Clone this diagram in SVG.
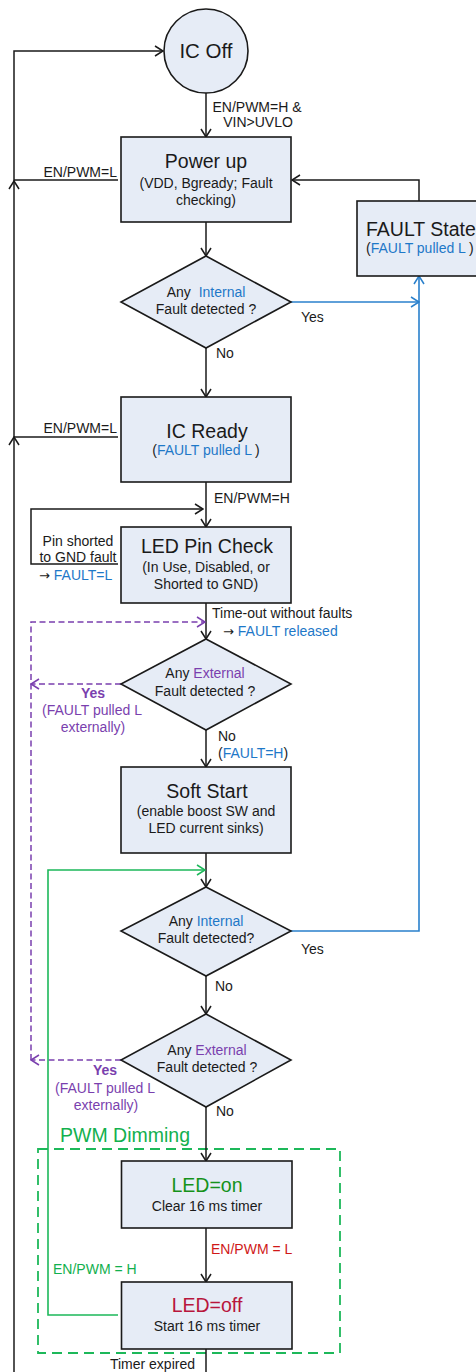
<svg xmlns="http://www.w3.org/2000/svg" width="476" height="1372" viewBox="0 0 476 1372">
<defs>
<style>
text{font-family:"Liberation Sans",Arial,sans-serif;fill:#1a1a1a}
.ti{font-size:19.5px}
.sm{font-size:14px}
.mid{text-anchor:middle}
.end{text-anchor:end}
.arr{font-family:"DejaVu Sans",sans-serif;font-size:13px}
.node{fill:#e6ecf6;stroke:#1a1a1a;stroke-width:1.6}
.ln{fill:none;stroke:#1a1a1a;stroke-width:1.5}
.bl{fill:none;stroke:#2a80cc;stroke-width:1.6}
.pu{fill:none;stroke:#7a3fae;stroke-width:1.5;stroke-dasharray:6,3.5}
.gr{fill:none;stroke:#1db85a;stroke-width:1.6}
.blue{fill:#1e78c8}
.purple{fill:#7a3fae}
.green{fill:#12b04e}
</style>
<marker id="ak" markerUnits="userSpaceOnUse" markerWidth="10" markerHeight="12" viewBox="0 0 10 12" refX="9" refY="6" orient="auto"><path d="M1,1 L9,6 L1,11" fill="none" stroke="#1a1a1a" stroke-width="1.5"/></marker>
<marker id="ab" markerUnits="userSpaceOnUse" markerWidth="10" markerHeight="12" viewBox="0 0 10 12" refX="9" refY="6" orient="auto"><path d="M1,1 L9,6 L1,11" fill="none" stroke="#2a80cc" stroke-width="1.5"/></marker>
<marker id="ap" markerUnits="userSpaceOnUse" markerWidth="10" markerHeight="12" viewBox="0 0 10 12" refX="9" refY="6" orient="auto"><path d="M1,1 L9,6 L1,11" fill="none" stroke="#7a3fae" stroke-width="1.5"/></marker>
<marker id="ag" markerUnits="userSpaceOnUse" markerWidth="10" markerHeight="12" viewBox="0 0 10 12" refX="9" refY="6" orient="auto"><path d="M1,1 L9,6 L1,11" fill="none" stroke="#1db85a" stroke-width="1.5"/></marker>
</defs>
<rect width="476" height="1372" fill="#ffffff"/>

<g id="pwm-dimming-group">
<rect x="38" y="1149" width="302" height="204" fill="none" stroke="#1db85a" stroke-width="1.8" stroke-dasharray="10,6"/>
<text x="60" y="1142" class="ti green">PWM Dimming</text>
</g>

<g id="connectors">
<path class="ln" d="M14,1372 V437" marker-end="url(#ak)"/>
<path class="ln" d="M14,437 V181" marker-end="url(#ak)"/>
<path class="ln" d="M14,181 V51 H163" marker-end="url(#ak)"/>
<path class="ln" d="M118,180 H14"/>
<path class="ln" d="M118,437 H14"/>
<path class="ln" d="M206,93 V137" marker-end="url(#ak)"/>
<path class="ln" d="M419,201 V180 H292" marker-end="url(#ak)"/>
<path class="ln" d="M206,222 V256" marker-end="url(#ak)"/>
<path class="bl" d="M291,302 H419" marker-end="url(#ab)"/>
<path class="bl" d="M291,931 H419 V276" marker-end="url(#ab)"/>
<path class="ln" d="M206,348 V397" marker-end="url(#ak)"/>
<path class="ln" d="M206,482 V527" marker-end="url(#ak)"/>
<path class="ln" d="M118,564 H31 V509 H203" marker-end="url(#ak)"/>
<path class="ln" d="M206,603 V639" marker-end="url(#ak)"/>
<path class="pu" d="M31,1060 V622 H205" marker-end="url(#ap)"/>
<path class="pu" d="M121,684 H31" marker-end="url(#ap)"/>
<path class="pu" d="M121,1060 H31" marker-end="url(#ap)"/>
<path class="ln" d="M206,730 V767" marker-end="url(#ak)"/>
<path class="ln" d="M206,853 V887" marker-end="url(#ak)"/>
<path class="gr" d="M118,1315 H48 V870 H205" marker-end="url(#ag)"/>
<path class="ln" d="M206,976 V1014" marker-end="url(#ak)"/>
<path class="ln" d="M206,1107 V1161" marker-end="url(#ak)"/>
<path class="ln" d="M206,1228 V1282" marker-end="url(#ak)"/>
<path class="ln" d="M206,1349 V1372"/>
</g>

<g id="connector-labels">
<text x="257" y="112" class="sm mid">EN/PWM=H &amp;</text>
<text x="258" y="127" class="sm mid">VIN&gt;UVLO</text>
<text x="117" y="177" class="sm end">EN/PWM=L</text>
<text x="301" y="322" class="sm">Yes</text>
<text x="216" y="358" class="sm">No</text>
<text x="117" y="433" class="sm end">EN/PWM=L</text>
<text x="214" y="503" class="sm">EN/PWM=H</text>
<text x="78" y="546" class="sm mid">Pin shorted</text>
<text x="78" y="562" class="sm mid">to GND fault</text>
<text x="39" y="580" class="sm"><tspan class="arr">→</tspan> <tspan class="blue">FAULT=L</tspan></text>
<text x="212" y="618" class="sm">Time-out without faults</text>
<text x="223" y="636" class="sm"><tspan class="arr">→</tspan> <tspan class="blue">FAULT released</tspan></text>
<text x="93" y="698" class="sm mid purple" font-weight="bold">Yes</text>
<text x="92" y="715" class="sm mid purple">(FAULT pulled L</text>
<text x="93" y="732" class="sm mid purple">externally)</text>
<text x="218" y="741" class="sm">No</text>
<text x="218" y="758" class="sm">(<tspan class="blue">FAULT=H</tspan>)</text>
<text x="301" y="954" class="sm">Yes</text>
<text x="215" y="991" class="sm">No</text>
<text x="105" y="1075" class="sm mid purple" font-weight="bold">Yes</text>
<text x="105" y="1093" class="sm mid purple">(FAULT pulled L</text>
<text x="106" y="1110" class="sm mid purple">externally)</text>
<text x="216" y="1116" class="sm">No</text>
<text x="211" y="1254" class="sm" style="fill:#d01818">EN/PWM = L</text>
<text x="53" y="1274" class="sm green">EN/PWM = H</text>
<text x="195" y="1369" class="sm end">Timer expired</text>
</g>

<g id="ic-off">
<circle cx="206" cy="51" r="42" class="node"/>
<text x="206" y="58" class="mid" font-size="20.5">IC Off</text>
</g>

<g id="power-up">
<rect x="121" y="137" width="170" height="85" class="node"/>
<text x="206" y="168" class="ti mid">Power up</text>
<text x="206" y="188" class="sm mid">(VDD, Bgready; Fault</text>
<text x="206" y="205" class="sm mid">checking)</text>
</g>

<g id="fault-state">
<rect x="357" y="201" width="125" height="75" class="node"/>
<text x="366" y="236" class="ti">FAULT State</text>
<text x="366" y="253" class="sm">(<tspan class="blue">FAULT pulled L</tspan><tspan dx="3">)</tspan></text>
</g>

<g id="internal-fault-1">
<polygon points="206,256 291,302 206,348 121,302" class="node"/>
<text x="206" y="297" class="sm mid">Any <tspan class="blue" dx="4">Internal</tspan></text>
<text x="206" y="314" class="sm mid">Fault detected ?</text>
</g>

<g id="ic-ready">
<rect x="121" y="397" width="170" height="85" class="node"/>
<text x="207" y="438" class="ti mid">IC Ready</text>
<text x="206" y="455" class="sm mid">(<tspan class="blue">FAULT pulled L</tspan><tspan dx="3">)</tspan></text>
</g>

<g id="led-pin-check">
<rect x="121" y="527" width="170" height="76" class="node"/>
<text x="207" y="553" class="ti mid">LED Pin Check</text>
<text x="206" y="572" class="sm mid">(In Use, Disabled, or</text>
<text x="206" y="589" class="sm mid">Shorted to GND)</text>
</g>

<g id="external-fault-1">
<polygon points="206,639 291,684 206,730 121,684" class="node"/>
<text x="205" y="678" class="sm mid">Any <tspan class="purple">External</tspan></text>
<text x="205" y="696" class="sm mid">Fault detected ?</text>
</g>

<g id="soft-start">
<rect x="121" y="767" width="170" height="86" class="node"/>
<text x="207" y="798" class="ti mid">Soft Start</text>
<text x="206" y="816" class="sm mid">(enable boost SW and</text>
<text x="206" y="833" class="sm mid">LED current sinks)</text>
</g>

<g id="internal-fault-2">
<polygon points="206,887 291,931 206,976 121,931" class="node"/>
<text x="206" y="926" class="sm mid">Any <tspan class="blue">Internal</tspan></text>
<text x="206" y="943" class="sm mid">Fault detected?</text>
</g>

<g id="external-fault-2">
<polygon points="206,1014 291,1060 206,1107 121,1060" class="node"/>
<text x="207" y="1055" class="sm mid">Any <tspan class="purple">External</tspan></text>
<text x="207" y="1072" class="sm mid">Fault detected ?</text>
</g>

<g id="led-on">
<rect x="121.5" y="1161" width="170.5" height="67" class="node"/>
<text x="207" y="1192" class="ti mid" style="fill:#15921a">LED=on</text>
<text x="207" y="1211" class="sm mid">Clear 16 ms timer</text>
</g>

<g id="led-off">
<rect x="121.5" y="1282" width="170.5" height="67" class="node"/>
<text x="207" y="1312" class="ti mid" style="fill:#b8163c">LED=off</text>
<text x="207" y="1331" class="sm mid">Start 16 ms timer</text>
</g>
</svg>
